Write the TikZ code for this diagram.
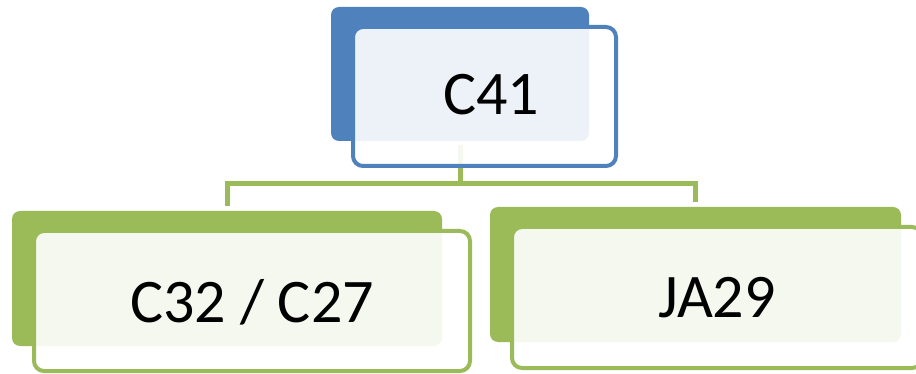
\documentclass[tikz,border=0pt]{standalone}
\usepackage{fontspec}
\setmainfont{Carlito}
\definecolor{bblue}{HTML}{4F81BD}
\definecolor{bgreen}{HTML}{9BBB59}
\begin{document}
\begin{tikzpicture}[x=1pt,y=-1pt,
  backbox/.style={rectangle,rounded corners=8pt,inner sep=0pt,outer sep=0pt,draw=none},
  frontbox/.style={rectangle,rounded corners=10pt,inner sep=0pt,outer sep=0pt,line width=4pt,fill=white,fill opacity=0.9,draw opacity=1},
  lbl/.style={anchor=base,inner sep=0pt,font=\fontsize{62}{70}\selectfont,text=black},
  conn/.style={draw=bgreen,line width=5pt}]
\useasboundingbox (0,0) rectangle (916,374);
% back boxes
\node[backbox,fill=bblue,minimum width=258pt,minimum height=134pt] (b0) at (460,74) {};
\node[backbox,fill=bgreen,minimum width=430pt,minimum height=135pt] (b1) at (227,278.5) {};
\node[backbox,fill=bgreen,minimum width=411pt,minimum height=135pt] (b2) at (695.5,274.5) {};
% connectors
\coordinate (j) at (460,184);
\draw[conn,shorten <=4pt] (b0.south) -- (j);
\draw[conn,shorten >=5pt] (j) -| (b1.north);
\draw[conn,shorten >=5pt] (j) -| (b2.north);
% front boxes
\node[frontbox,draw=bblue,minimum width=263pt,minimum height=139pt] (f0) at (484.5,96.5) {};
\node[frontbox,draw=bgreen,minimum width=436pt,minimum height=140pt] (f1) at (252,301) {};
\node[frontbox,draw=bgreen,minimum width=410pt,minimum height=141pt] (f2) at (717,297.5) {};
% labels
\node[lbl] (t0) at (491,115) {C41};
\node[lbl] (t1) at (252,322) {C32 / C27};
\node[lbl] (t2) at (717,317) {JA29};
\end{tikzpicture}
\end{document}
